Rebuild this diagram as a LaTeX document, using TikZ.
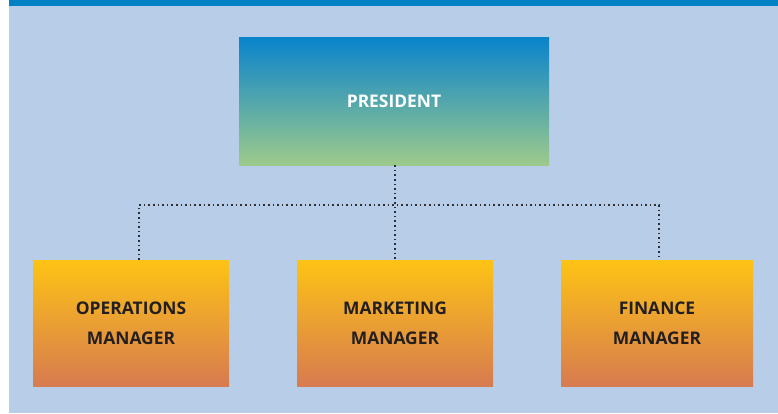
\documentclass[tikz,border=0pt]{standalone}
\usepackage{fontspec}
\setmainfont{Open Sans}
\usepackage{tikz}
\usetikzlibrary{calc}

\definecolor{pagebg}{HTML}{B8CDE8}
\definecolor{topbar}{HTML}{0081C6}
\definecolor{presTop}{HTML}{0A84CB}
\definecolor{presBot}{HTML}{9DCA8C}
\definecolor{mgrTop}{HTML}{FDC315}
\definecolor{mgrBot}{HTML}{D77B50}
\definecolor{mgrText}{HTML}{231F20}
\definecolor{linkGray}{HTML}{2E2E33}

\begin{document}
\begin{tikzpicture}[x=1pt, y=1pt,
  chartfont/.style={font=\fontsize{17.4}{30}\selectfont\bfseries},
  presbox/.style={chartfont, text=white, inner sep=0pt, minimum width=310pt, minimum height=127pt,
    top color=presTop, bottom color=presBot},
  mgrbox/.style={chartfont, text=mgrText, align=center, inner sep=0pt, minimum height=126pt,
    top color=mgrTop, bottom color=mgrBot},
  dotlink/.style={linkGray, line width=1.6pt, dash pattern=on 1.6pt off 3pt}]
  \useasboundingbox (0,0) rectangle (778,413);
  % background and top band
  \fill[pagebg] (9,0) rectangle (778,413);
  \fill[topbar] (9,407) rectangle (778,413);
  % boxes
  \node[presbox] (pres) at (394,311.5) {PRESIDENT};
  \node[mgrbox, minimum width=196pt] (ops) at (131,90) {OPERATIONS\\MANAGER};
  \node[mgrbox, minimum width=196pt] (mkt) at (395,90) {MARKETING\\MANAGER};
  \node[mgrbox, minimum width=192pt] (fin) at (657,90) {FINANCE\\MANAGER};
  % dotted links
  \coordinate (opsTop) at (139,153);
  \coordinate (finTop) at (659,153);
  \coordinate (busL) at (139,208);
  \coordinate (busR) at (659,208);
  \draw[dotlink] (pres.south -| mkt.north) -- (mkt.north);
  \draw[dotlink] (opsTop) -- (busL) -- (busR) -- (finTop);
\end{tikzpicture}
\end{document}
